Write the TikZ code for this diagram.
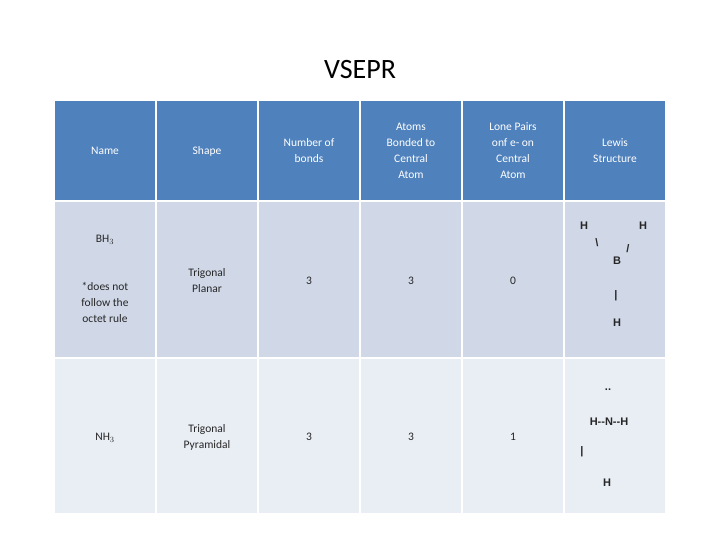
\documentclass[tikz,border=0pt]{standalone}
\usepackage{fontspec}
\setmainfont{Carlito}
\newfontfamily\lewis{Liberation Sans}
\begin{document}
\begin{tikzpicture}[x=1pt,y=-1pt,
  cell/.style={draw=white,line width=1.5pt},
  txt/.style={align=center,font=\fontsize{11.5}{16}\selectfont,text=black!85},
  htxt/.style={align=center,font=\fontsize{11.5}{16}\selectfont,text=white},
  lw/.style={font=\lewis\bfseries\fontsize{11}{13}\selectfont,text=black!85,inner sep=0pt}]
\useasboundingbox (0,0) rectangle (720,540);
\node (title) at (360,70) {\fontsize{28}{32}\selectfont VSEPR};
\foreach \i/\xa in {0/54,1/156,2/258,3/360,4/462,5/564}{
  \pgfmathsetmacro\xb{\xa+102}
  \fill[cell,fill=blue!50!cyan!45!black!30!white] (\xa,100) rectangle (\xb,201);
  \fill[cell,fill=blue!60!cyan!40!black!80!white] (\xa,100) rectangle (\xb,201);
  \fill[cell,fill={rgb,255:red,208;green,216;blue,232}] (\xa,201) rectangle (\xb,358);
  \fill[cell,fill={rgb,255:red,233;green,237;blue,244}] (\xa,358) rectangle (\xb,514);
}
\foreach \xa in {54,156,258,360,462,564}{
  \pgfmathsetmacro\xb{\xa+102}
  \fill[fill={rgb,255:red,79;green,129;blue,189}] (\xa,100) rectangle (\xb,201);
  \draw[cell] (\xa,100) rectangle (\xb,201);
  \draw[cell] (\xa,201) rectangle (\xb,358);
  \draw[cell] (\xa,358) rectangle (\xb,514);
}
\node[htxt] (h1) at (105,151) {Name};
\node[htxt] (h2) at (207,151) {Shape};
\node[htxt] (h3) at (309,151) {Number of\\bonds};
\node[htxt] (h4) at (411,151) {Atoms\\Bonded to\\Central\\Atom};
\node[htxt] (h5) at (513,151) {Lone Pairs\\onf e- on\\Central\\Atom};
\node[htxt] (h6) at (615,151) {Lewis\\Structure};
\node[txt] (n1) at (105,240) {BH$_3$};
\node[txt] (n1b) at (105,302) {*does not\\follow the\\octet rule};
\node[txt] (s1) at (207,281) {Trigonal\\Planar};
\node[txt] (b1) at (309,281) {3};
\node[txt] (a1) at (411,281) {3};
\node[txt] (l1) at (513,281) {0};
\node[txt] (n2) at (105,438) {NH$_3$};
\node[txt] (s2) at (207,437) {Trigonal\\Pyramidal};
\node[txt] (b2) at (309,437) {3};
\node[txt] (a2) at (411,437) {3};
\node[txt] (l2) at (513,437) {1};
\node[lw] (bh1) at (584,226) {H};
\node[lw] (bh2) at (643,226) {H};
\node[lw] at (597,243) {\textbackslash};
\node[lw] (bb) at (617,261) {B};
\node[lw] at (628,249) {/};
\node[lw] at (616,296) {|};
\node[lw] (bh3) at (617,323) {H};
\node[lw] at (608,390) {..};
\node[lw] (nn) at (609,422) {H--N--H};
\node[lw] at (582,452) {|};
\node[lw] (nh) at (607,483) {H};
\end{tikzpicture}
\end{document}
